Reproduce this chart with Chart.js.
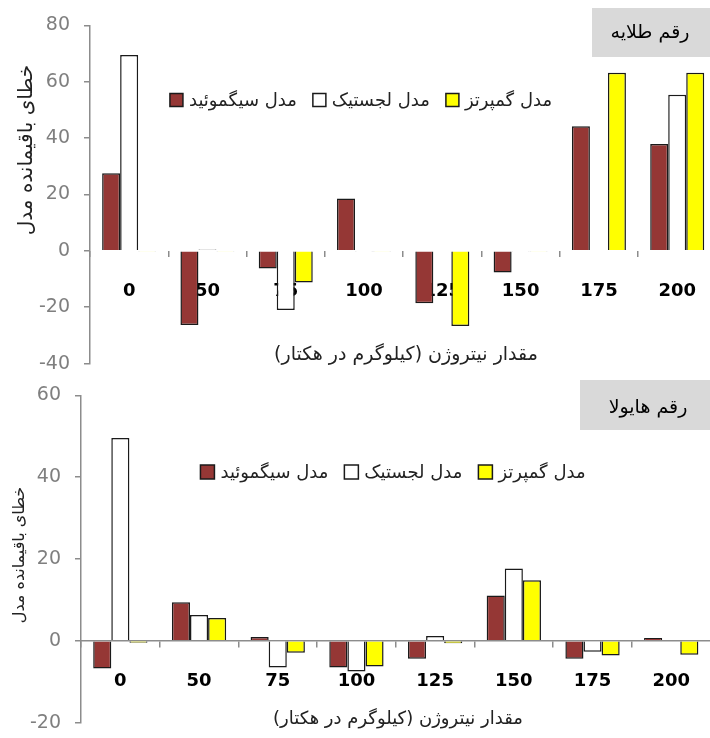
<!DOCTYPE html>
<html>
<head>
<meta charset="utf-8">
<script src="https://cdn.jsdelivr.net/npm/chart.js@4.4.0/dist/chart.umd.min.js"></script>
<style>
  html, body { margin: 0; padding: 0; background: #fff; }
  #page { position: relative; width: 710px; height: 738px; overflow: hidden; }
  #talayehChart { position: absolute; left: 0; top: 0; }
  #hayolaChart { position: absolute; left: 0; top: 370px; }
</style>
</head>
<body>
<div id="page">
  <canvas id="talayehChart" width="720" height="389"></canvas>
  <canvas id="hayolaChart" width="714" height="378"></canvas>
</div>
<script>
// nitrogen rates (kg/ha)
const nitrogenLevels = ['0', '50', '75', '100', '125', '150', '175', '200'];
const seriesNames = ['مدل سیگموئید', 'مدل لجستیک', 'مدل گمپرتز'];

// cultivar Talayeh - residual error
const talayehSigmoid  = [27.5, -26.3, -6.3, 18.6, -18.6, -7.7, 44.2, 37.9];
const talayehLogistic = [69.5, 0.5, -21, -0.3, 0, -0.3, 0, 55.4];
const talayehGompertz = [-0.3, -0.3, -11.2, -0.3, -26.7, -0.3, 63.2, 63.2];

// cultivar Hayola
const hayolaSigmoid  = [-6.8, 9.4, 0.9, -6.5, -4.4, 11.1, -4.4, 0.7];
const hayolaLogistic = [49.6, 6.3, -6.5, -7.5, 1.2, 17.7, -2.7, 0.2];
const hayolaGompertz = [-0.5, 5.6, -2.9, -6.3, -0.6, 14.8, -3.6, -3.4];

const yTitle = 'خطای باقیمانده مدل';
const xTitle = 'مقدار نیتروژن (کیلوگرم در هکتار)';
const persianFont = '"DejaVu Sans"';

function buildDatasets(sig, logi, gomp) {
    return [
        {label: seriesNames[0], data: sig, backgroundColor: '#953735', borderColor: '#1a1a1a', borderWidth: 1.5},
        {label: seriesNames[1], data: logi, backgroundColor: '#ffffff', borderColor: '#1a1a1a', borderWidth: 1.5},
        {label: seriesNames[2], data: gomp, backgroundColor: '#ffff00', borderColor: '#1a1a1a', borderWidth: 1.5}
    ];
}

// draws the cultivar box, axis titles and the legend inside the plot
const captionPlugin = {
    id: 'captions',
    afterDraw(chart, args, opts) {
        const ctx = chart.ctx;
        ctx.save();
        ctx.direction = 'rtl';
        ctx.textBaseline = 'middle';

        const b = opts.box;
        ctx.fillStyle = '#d9d9d9';
        ctx.fillRect(b.x, b.y, b.w, b.h);
        ctx.fillStyle = '#000';
        ctx.textAlign = 'center';
        ctx.font = b.size + 'px ' + persianFont;
        ctx.fillText(b.text, b.tx, b.ty);

        ctx.fillStyle = '#222';
        ctx.font = opts.xTitle.size + 'px ' + persianFont;
        ctx.fillText(xTitle, opts.xTitle.x, opts.xTitle.y);

        ctx.save();
        ctx.translate(opts.yTitle.x, opts.yTitle.y);
        ctx.rotate(-Math.PI / 2);
        ctx.font = opts.yTitle.size + 'px ' + persianFont;
        ctx.fillText(yTitle, 0, 0);
        ctx.restore();

        // legend
        const lg = opts.legend;
        ctx.font = lg.size + 'px ' + persianFont;
        const items = chart.data.datasets;
        const widths = items.map(d => lg.box + lg.gap + ctx.measureText(d.label).width);
        const total = widths.reduce((s, w) => s + w, 0) + lg.spacing * (items.length - 1);
        let x = lg.cx - total / 2;
        ctx.textAlign = 'left';
        items.forEach((d, i) => {
            ctx.fillStyle = d.backgroundColor;
            ctx.fillRect(x, lg.y - lg.box / 2, lg.box, lg.box);
            ctx.strokeStyle = '#1a1a1a';
            ctx.lineWidth = 1.5;
            ctx.strokeRect(x, lg.y - lg.box / 2, lg.box, lg.box);
            ctx.fillStyle = '#222';
            ctx.fillText(d.label, x + lg.box + lg.gap, lg.y + 1);
            x += widths[i] + lg.spacing;
        });
        ctx.restore();
    }
};

function makeChart(id, datasets, yMin, yMax, yWidth, padding, zeroLine, captions) {
    const ctx = document.getElementById(id).getContext('2d');
    return new Chart(ctx, {
        type: 'bar',
        data: {labels: nitrogenLevels, datasets: datasets},
        options: {
            responsive: false,
            animation: false,
            devicePixelRatio: 1,
            layout: {padding: padding},
            datasets: {bar: {categoryPercentage: 0.69, barPercentage: 1.0}},
            scales: {
                x: {
                    position: {y: 0},
                    grid: {drawOnChartArea: false, tickLength: 6, color: '#8c8c8c', lineWidth: 1.5},
                    border: {display: zeroLine, color: '#8c8c8c', width: 1.5},
                    ticks: {color: '#000', padding: 24, font: {family: 'DejaVu Sans', size: 18, weight: 'bold'}}
                },
                y: {
                    min: yMin,
                    max: yMax,
                    ticks: {stepSize: 20, color: '#7f7f7f', padding: 14, font: {family: 'DejaVu Sans', size: 19}},
                    grid: {drawOnChartArea: false, tickLength: 6, color: '#8c8c8c', lineWidth: 1.5},
                    border: {color: '#8c8c8c', width: 1.5},
                    afterFit(scale) { scale.width = yWidth; }
                }
            },
            plugins: {
                legend: {display: false},
                tooltip: {enabled: false},
                captions: captions
            }
        },
        plugins: [captionPlugin]
    });
}

makeChart('talayehChart', buildDatasets(talayehSigmoid, talayehLogistic, talayehGompertz),
    -40, 80, 90, {top: 22, bottom: 7, left: 0, right: 0}, false, {
        box: {x: 592, y: 8, w: 130, h: 49, tx: 650, ty: 33, size: 19, text: 'رقم طلایه'},
        xTitle: {x: 406, y: 355, size: 19},
        yTitle: {x: 27, y: 150, size: 20},
        legend: {cx: 361, y: 100, box: 13, gap: 6, spacing: 16, size: 18}
    });

makeChart('hayolaChart', buildDatasets(hayolaSigmoid, hayolaLogistic, hayolaGompertz),
    -20, 60, 81, {top: 24, bottom: 0, left: 0, right: 0}, true, {
        box: {x: 580, y: 10, w: 140, h: 50, tx: 648, ty: 38, size: 19, text: 'رقم هایولا'},
        xTitle: {x: 398, y: 349, size: 18},
        yTitle: {x: 20, y: 185, size: 16},
        legend: {cx: 393, y: 102, box: 14, gap: 6, spacing: 16, size: 18}
    });
</script>
</body>
</html>
